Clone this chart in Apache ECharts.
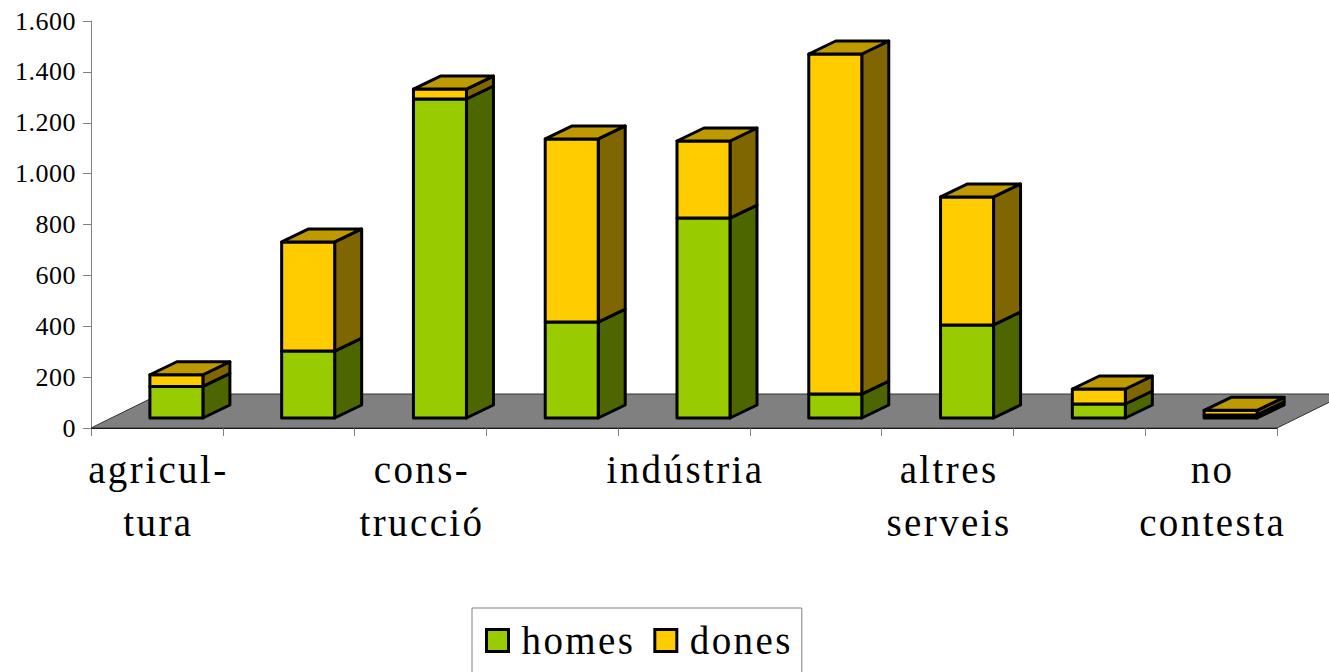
<!DOCTYPE html>
<html><head><meta charset="utf-8">
<style>
html,body{margin:0;padding:0;background:#fff}
#chart{width:1329px;height:672px}
#chart text{letter-spacing:2.4px}
#chart text[style*="26px"]{letter-spacing:0.5px}
</style>
<script src="https://cdn.jsdelivr.net/npm/echarts@6/dist/echarts.min.js"></script>
</head><body><div id="chart"></div>
<script>
const categories = ['agricul-\ntura','','cons-\ntrucció','','indústria','','altres\nserveis','','no\ncontesta'];
const homes = [124,263,1254,377,786,94,366,55,12];
const dones = [46,429,39,720,303,1337,503,59,18];
const floorRow = [0];
const yTicks = {min:0,max:1600,interval:200};

const depthX=27, depthY=13, liftY=10, shiftX=19.5, barW=53, floorX=69, floorY=34;

function face(points,fill){
  return {type:'polygon',shape:{points},style:{fill,stroke:'#000',lineWidth:3,lineJoin:'round'}};
}
function barItem(values,bases,front,side,top,drawTop){
  return function(params,api){
    const i=api.value(0);
    const c=api.coord([i,bases(i)]), d=api.coord([i,bases(i)+values[i]]);
    const x=c[0]+shiftX-barW/2, y0=c[1]-liftY, y1=d[1]-liftY, x1=x+barW;
    const kids=[
      face([[x1,y0],[x1+depthX,y0-depthY],[x1+depthX,y1-depthY],[x1,y1]],side),
      face([[x,y0],[x1,y0],[x1,y1],[x,y1]],front)
    ];
    if(drawTop) kids.push(face([[x,y1],[x1,y1],[x1+depthX,y1-depthY],[x+depthX,y1-depthY]],top));
    return {type:'group',children:kids};
  };
}
const chart=echarts.init(document.getElementById('chart'),null,{renderer:'svg'});
chart.setOption({
  animation:false,
  backgroundColor:'#fff',
  grid:{left:91,right:52,top:21,bottom:244,containLabel:false},
  legend:{
    show:true,left:472,top:608,selectedMode:false,orient:'horizontal',
    padding:[13,21,40,13],itemGap:30,itemWidth:22,itemHeight:22,
    borderColor:'#808080',borderWidth:1,backgroundColor:'#fff',
    textStyle:{fontFamily:'Liberation Serif',fontSize:39,color:'#000',padding:[0,0,8,8]},
    data:[
      {name:'homes',icon:'rect',itemStyle:{color:'#99cc00',borderColor:'#000',borderWidth:3}},
      {name:'dones',icon:'rect',itemStyle:{color:'#ffcc00',borderColor:'#000',borderWidth:3}}
    ]
  },
  xAxis:{type:'category',data:categories,boundaryGap:true,
    axisLine:{show:true,onZero:false,lineStyle:{color:'#000',width:1}},
    axisTick:{show:true,length:8,alignWithLabel:false,interval:0,lineStyle:{color:'#808080',width:1}},
    axisLabel:{interval:0,margin:15,hideOverlap:false,fontFamily:'Liberation Serif',fontSize:39,lineHeight:53,color:'#000',padding:[0,0,0,3]},
    splitLine:{show:false}
  },
  yAxis:{type:'value',min:yTicks.min,max:yTicks.max,interval:yTicks.interval,
    axisLine:{show:true,lineStyle:{color:'#808080',width:1}},
    axisTick:{show:true,length:8,lineStyle:{color:'#808080',width:1}},
    axisLabel:{margin:15,fontFamily:'Liberation Serif',fontSize:26,color:'#000',
      formatter:v=>String(v).replace(/\B(?=(\d{3})+$)/g,'.')},
    splitLine:{show:false}
  },
  series:[
    {type:'custom',name:'floor',silent:true,z:1,data:floorRow,
      renderItem:function(params,api){
        const s=params.coordSys, y=api.coord([0,0])[1], L=s.x, R=s.x+s.width;
        return {type:'polygon',shape:{points:[[L,y],[R,y],[R+floorX,y-floorY],[L+floorX,y-floorY]]},
          style:{fill:'#808080',stroke:'#333',lineWidth:1}};
      }},
    {type:'custom',name:'homes',silent:true,z:2,data:homes.map((v,i)=>[i,v]),encode:{x:0,y:1},
      renderItem:barItem(homes,()=>0,'#99cc00','#4d6600','#99cc00',false)},
    {type:'custom',name:'dones',silent:true,z:3,data:dones.map((v,i)=>[i,v]),encode:{x:0,y:1},
      renderItem:barItem(dones,i=>homes[i],'#ffcc00','#806600','#bf9900',true)}
  ]
});
</script></body></html>
